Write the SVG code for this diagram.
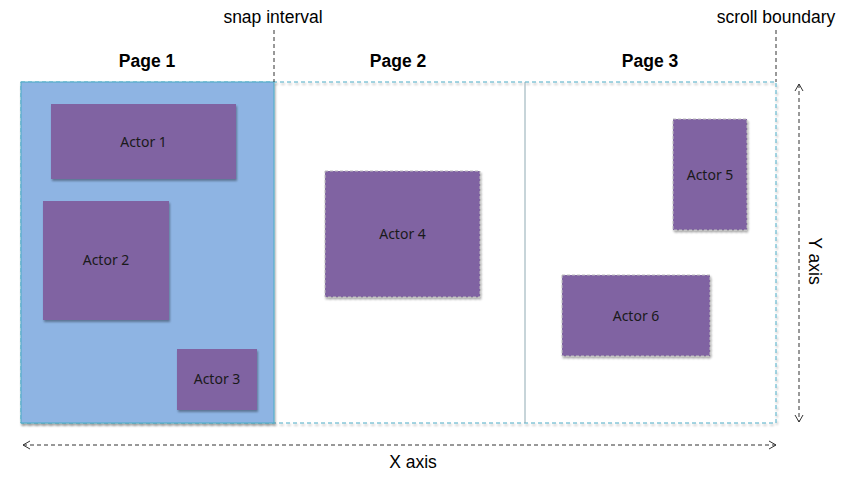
<svg xmlns="http://www.w3.org/2000/svg" width="850" height="478" viewBox="0 0 850 478">
<style>
.lbl{font-family:"Liberation Sans",Arial,sans-serif;font-size:17.5px;fill:#000}
.page{font-family:"Liberation Sans",Arial,sans-serif;font-size:17.5px;font-weight:bold;fill:#000}
.actor{fill:#8064A2}
.dashed{stroke:#BFBFBF;stroke-width:1;stroke-dasharray:3 2}
.atext{font-family:"Noto Sans",sans-serif;font-size:14px;fill:#1a1a1a;text-anchor:middle}
.guide{stroke:#333;stroke-width:1;stroke-dasharray:4 3;fill:none}
.bound{stroke:#4BACC6;stroke-width:1;stroke-dasharray:4 3;fill:none}
</style>
<defs>
<filter id="sh" x="-10%" y="-10%" width="130%" height="130%">
<feDropShadow dx="1" dy="2" stdDeviation="1.2" flood-color="#000" flood-opacity="0.35"/>
</filter>
<marker id="arr" markerWidth="10" markerHeight="10" refX="8" refY="5" orient="auto-start-reverse" markerUnits="userSpaceOnUse">
<path d="M1,1 L8,5 L1,9" fill="none" stroke="#333" stroke-width="1"/>
</marker>
</defs>
<rect width="850" height="478" fill="#fff"/>
<g id="scroll-area">
<rect x="21" y="82" width="755" height="341" class="bound" filter="url(#sh)"/>
<line x1="525" y1="82" x2="525" y2="423" stroke="#8faab3" stroke-width="1"/>
</g>
<g id="page1">
<rect x="21" y="82" width="253" height="341" fill="#8EB4E3" stroke="#4BACC6" stroke-width="1" filter="url(#sh)"/>
<text class="page" x="147" y="67" text-anchor="middle">Page 1</text>
</g>
<g id="page2"><text class="page" x="398" y="67" text-anchor="middle">Page 2</text></g>
<g id="page3"><text class="page" x="650" y="67" text-anchor="middle">Page 3</text></g>
<g id="actor1"><rect class="actor" x="51" y="104" width="185" height="75" filter="url(#sh)"/><text class="atext" x="143.5" y="147">Actor 1</text></g>
<g id="actor2"><rect class="actor" x="43" y="201" width="126" height="119" filter="url(#sh)"/><text class="atext" x="106" y="265">Actor 2</text></g>
<g id="actor3"><rect class="actor" x="177" y="349" width="80" height="61" filter="url(#sh)"/><text class="atext" x="217" y="384">Actor 3</text></g>
<g id="actor4"><rect class="actor dashed" x="325" y="171" width="155" height="126" filter="url(#sh)"/><text class="atext" x="402.5" y="239">Actor 4</text></g>
<g id="actor5"><rect class="actor dashed" x="673" y="119" width="74" height="111" filter="url(#sh)"/><text class="atext" x="710" y="180">Actor 5</text></g>
<g id="actor6"><rect class="actor dashed" x="562" y="275" width="148" height="81" filter="url(#sh)"/><text class="atext" x="636" y="321">Actor 6</text></g>
<g id="connectors">
<line x1="274" y1="30" x2="274" y2="82" class="guide"/>
<line x1="776" y1="30" x2="776" y2="82" class="guide"/>
<line x1="23" y1="445" x2="776" y2="445" class="guide" marker-start="url(#arr)" marker-end="url(#arr)"/>
<line x1="799" y1="84" x2="799" y2="422" class="guide" marker-start="url(#arr)" marker-end="url(#arr)"/>
</g>
<g id="labels">
<text class="lbl" x="273" y="23" text-anchor="middle">snap interval</text>
<text class="lbl" x="776" y="23" text-anchor="middle">scroll boundary</text>
<text class="lbl" x="413" y="468" text-anchor="middle">X axis</text>
<text class="lbl" transform="translate(809,261) rotate(90)" text-anchor="middle">Y axis</text>
</g>
</svg>
